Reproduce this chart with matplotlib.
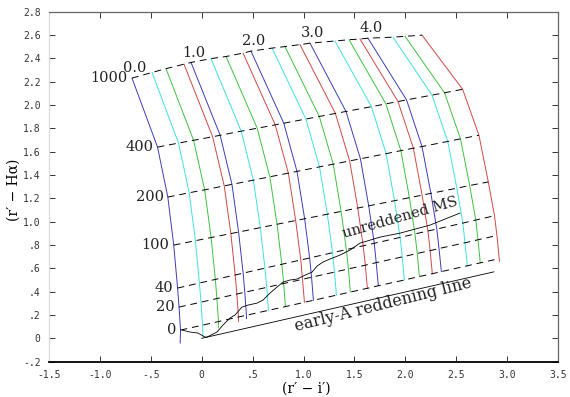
import matplotlib
matplotlib.use('Agg')
import matplotlib.pyplot as plt
import numpy as np

# ---------------- data ----------------
ew_labels = ['1000', '400', '200', '100', '40', '20', '0']
av_labels = ['0.0', '1.0', '2.0', '3.0', '4.0']
av_label_idx = [0, 4, 8, 12, 16]
curve_colors = ['#3c3cb4', '#40e0e0', '#40c040', '#d04848'] * 5

ew1000_x = [-0.685, -0.488, -0.351, -0.174, -0.105, 0.091, 0.239, 0.406, 0.484, 0.691,
            0.818, 0.965, 1.064, 1.309, 1.447, 1.555, 1.633, 1.879, 1.997, 2.164]
ew1000_y = [2.231, 2.279, 2.312, 2.350, 2.365, 2.398, 2.416, 2.445, 2.462, 2.488,
            2.501, 2.518, 2.530, 2.549, 2.560, 2.566, 2.573, 2.582, 2.589, 2.599]
ew400_x = [-0.434, -0.228, -0.080, 0.107, 0.181, 0.388, 0.545, 0.722, 0.806, 1.023,
           1.155, 1.313, 1.417, 1.667, 1.809, 1.928, 2.012, 2.262, 2.385, 2.563]
ew400_y = [1.639, 1.674, 1.698, 1.728, 1.741, 1.776, 1.801, 1.830, 1.844, 1.880,
           1.902, 1.928, 1.945, 1.986, 2.010, 2.030, 2.044, 2.085, 2.105, 2.135]
ew200_x = [-0.333, -0.123, 0.029, 0.221, 0.297, 0.507, 0.669, 0.851, 0.936, 1.157,
           1.292, 1.453, 1.559, 1.811, 1.956, 2.079, 2.164, 2.417, 2.542, 2.723]
ew200_y = [1.211, 1.248, 1.273, 1.307, 1.320, 1.356, 1.385, 1.416, 1.431, 1.470,
           1.493, 1.521, 1.539, 1.583, 1.609, 1.630, 1.644, 1.688, 1.710, 1.741]
ew100_x = [-0.275, -0.062, 0.092, 0.286, 0.362, 0.576, 0.740, 0.923, 1.011, 1.234,
           1.369, 1.533, 1.640, 1.894, 2.040, 2.165, 2.251, 2.506, 2.632, 2.815]
ew100_y = [0.799, 0.837, 0.864, 0.898, 0.911, 0.949, 0.978, 1.010, 1.025, 1.064,
           1.088, 1.117, 1.136, 1.180, 1.206, 1.227, 1.243, 1.287, 1.310, 1.341]
ew40_x = [-0.237, -0.023, 0.134, 0.329, 0.407, 0.621, 0.787, 0.973, 1.060, 1.285,
          1.421, 1.586, 1.695, 1.949, 2.095, 2.222, 2.309, 2.565, 2.692, 2.876]
ew40_y = [0.431, 0.474, 0.505, 0.543, 0.559, 0.602, 0.635, 0.672, 0.689, 0.734,
          0.761, 0.793, 0.815, 0.865, 0.895, 0.920, 0.937, 0.988, 1.014, 1.051]
ew20_x = [-0.223, -0.007, 0.149, 0.345, 0.423, 0.639, 0.805, 0.990, 1.079, 1.304,
          1.441, 1.607, 1.714, 1.970, 2.117, 2.244, 2.331, 2.586, 2.714, 2.900]
ew20_y = [0.268, 0.310, 0.341, 0.380, 0.395, 0.437, 0.470, 0.506, 0.524, 0.568,
          0.595, 0.627, 0.649, 0.698, 0.728, 0.752, 0.770, 0.819, 0.845, 0.881]
ew0_x = [-0.208, 0.008, 0.165, 0.361, 0.439, 0.655, 0.822, 1.009, 1.097, 1.323,
         1.460, 1.627, 1.735, 1.990, 2.138, 2.265, 2.354, 2.609, 2.736, 2.922]
ew0_y = [0.071, 0.113, 0.144, 0.183, 0.198, 0.240, 0.272, 0.309, 0.326, 0.370,
         0.397, 0.429, 0.451, 0.500, 0.530, 0.554, 0.572, 0.622, 0.647, 0.683]
# lower ends of the coloured curves (below the EW = 0 line at the blue end)
end_x = [-0.212, 0.012, 0.163, 0.362, 0.440, 0.655, 0.822, 1.009, 1.097, 1.323,
         1.460, 1.627, 1.735, 1.990, 2.138, 2.265, 2.354, 2.609, 2.736, 2.925]
end_y = [-0.040, 0.012, 0.090, 0.145, 0.170, 0.240, 0.272, 0.309, 0.326, 0.370,
         0.397, 0.429, 0.451, 0.500, 0.530, 0.554, 0.572, 0.622, 0.647, 0.660]

# unreddened main sequence
ms_x = [-0.194, -0.115, -0.036, 0.032, 0.052, 0.150, 0.209, 0.278, 0.327, 0.396, 0.455,
        0.543, 0.602, 0.671, 0.740, 0.799, 0.868, 0.936, 1.015, 1.084, 1.133, 1.192,
        1.260, 1.359, 1.457, 1.555, 1.624, 1.752, 1.948, 2.243, 2.537]
ms_y = [0.071, 0.054, 0.045, 0.011, 0.011, 0.054, 0.114, 0.174, 0.200, 0.268, 0.285,
        0.302, 0.328, 0.388, 0.440, 0.482, 0.500, 0.508, 0.542, 0.568, 0.620, 0.654,
        0.680, 0.714, 0.757, 0.817, 0.834, 0.868, 0.902, 0.971, 1.074]

# early-A reddening line
redline_x = [0.0, 2.87]
redline_y = [0.0, 0.57]

xticks = [-1.5, -1.0, -0.5, 0.0, 0.5, 1.0, 1.5, 2.0, 2.5, 3.0, 3.5]
xtick_labels = ['-1.5', '-1.0', '-.5', '0', '.5', '1.0', '1.5', '2.0', '2.5', '3.0', '3.5']
yticks = [-0.2, 0.0, 0.2, 0.4, 0.6, 0.8, 1.0, 1.2, 1.4, 1.6, 1.8, 2.0, 2.2, 2.4, 2.6, 2.8]
ytick_labels = ['-.2', '0', '.2', '.4', '.6', '.8', '1.0', '1.2', '1.4', '1.6', '1.8',
                '2.0', '2.2', '2.4', '2.6', '2.8']

# ---------------- plot ----------------
grid_x = np.array([ew1000_x, ew400_x, ew200_x, ew100_x, ew40_x, ew20_x, ew0_x])
grid_y = np.array([ew1000_y, ew400_y, ew200_y, ew100_y, ew40_y, ew20_y, ew0_y])
col_x = np.vstack([grid_x, end_x])
col_y = np.vstack([grid_y, end_y])

serif = 'DejaVu Serif'
fig = plt.figure(figsize=(5.70, 3.97), dpi=100)
ax = fig.add_axes([0.086, 0.089, 0.893, 0.8815])

for j in range(col_x.shape[1]):
    ax.plot(col_x[:, j], col_y[:, j], color=curve_colors[j], lw=0.7)
for i in range(grid_x.shape[0]):
    ax.plot(grid_x[i], grid_y[i], color='black', lw=0.7, dashes=(7, 5))

ax.plot(ms_x, ms_y, color='black', lw=0.6)
ax.plot(redline_x, redline_y, color='black', lw=0.6)

for i, lab in enumerate(ew_labels):
    ax.annotate(lab, (grid_x[i, 0], grid_y[i, 0]), xytext=(-3, 0), textcoords='offset points',
                ha='right', va='center', fontsize=10.5, family=serif, color='#222222')
for lab, j in zip(av_labels, av_label_idx):
    ax.annotate(lab, (grid_x[0, j], grid_y[0, j]), xytext=(2, 7), textcoords='offset points',
                ha='center', va='center', fontsize=10.5, family=serif, color='#222222')

ax.text(1.95, 1.03, 'unreddened MS', rotation=16, ha='center', va='center',
        fontsize=10.5, family=serif, color='#222222', rotation_mode='anchor')
ax.text(1.78, 0.285, 'early-A reddening line', rotation=14, ha='center', va='center',
        fontsize=11.5, family=serif, color='#222222', rotation_mode='anchor')

ax.set_xlim(-1.5, 3.5)
ax.set_ylim(-0.2, 2.8)
ax.set_xticks(xticks)
ax.set_xticklabels(xtick_labels)
ax.set_yticks(yticks)
ax.set_yticklabels(ytick_labels)
ax.tick_params(direction='in', top=True, right=True, length=4.5, width=0.7,
               labelsize=7, pad=6, colors='#333333')
for lab in ax.get_xticklabels() + ax.get_yticklabels():
    lab.set_family('DejaVu Sans Mono')

ax.spines['bottom'].set_color('black')
ax.spines['bottom'].set_linewidth(1.3)
ax.spines['left'].set_color('#d8d8d8')
ax.spines['top'].set_color('#666666')
ax.spines['right'].set_color('#666666')
for s in ['left', 'top', 'right']:
    ax.spines[s].set_linewidth(0.9)

ax.set_xlabel("(r\u2032 \u2212 i\u2032)", fontsize=10, family=serif)
ax.set_ylabel("(r\u2032 \u2212 H\u03b1)", fontsize=10, family=serif)
ax.xaxis.set_label_coords(0.505, -0.057)
ax.yaxis.set_label_coords(-0.056, 0.49)

fig.savefig('out.png', dpi=100)
